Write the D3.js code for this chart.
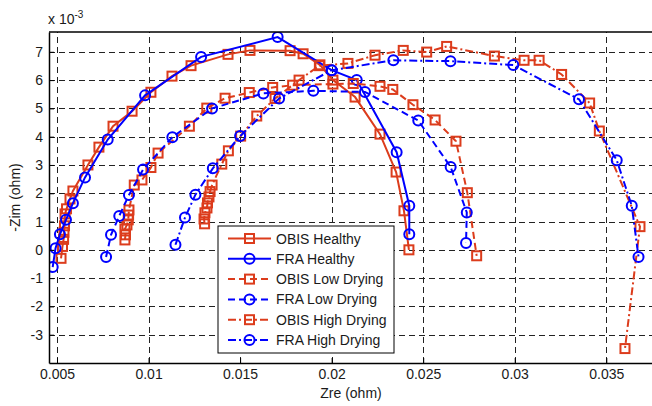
<!DOCTYPE html>
<html>
<head>
<meta charset="utf-8">
<script src="https://cdn.jsdelivr.net/npm/d3@7"></script>
<style>
  body { margin: 0; background: #fff; }
  svg { display: block; }
  text { font-family: "Liberation Sans", Arial, sans-serif; fill: #1a1a1a; }
</style>
</head>
<body>
<svg id="chart" width="652" height="406"></svg>
<script>
// Nyquist plot: real part vs. negative imaginary part of impedance (ohm)

const obisHealthyZre = [0.00522,0.00530,0.00536,0.00538,0.00541,0.00544,0.00552,0.00571,0.00587,0.00669,0.00729,0.00806,0.00910,0.01013,0.01128,0.01232,0.01434,0.01554,0.01773,0.01844,0.01936,0.02007,0.02128,0.02264,0.02352,0.02395,0.02422];
const obisHealthyZim = [-0.00030,0.00012,0.00037,0.00062,0.00085,0.00127,0.00145,0.00180,0.00208,0.00300,0.00363,0.00437,0.00490,0.00557,0.00614,0.00651,0.00691,0.00705,0.00704,0.00693,0.00654,0.00600,0.00540,0.00409,0.00275,0.00138,0.00000];

const fraHealthyZre = [0.004765,0.00492,0.00516,0.00549,0.00587,0.00653,0.00777,0.00981,0.01287,0.01705,0.02000,0.02137,0.02355,0.02424,0.02424];
const fraHealthyZim = [-0.00061,0.00006,0.00055,0.00106,0.00165,0.00256,0.00390,0.00546,0.00682,0.00752,0.00635,0.00600,0.00345,0.00156,0.00055];

const obisLowZre = [0.00871,0.00874,0.00871,0.00882,0.00889,0.00891,0.00893,0.00922,0.00964,0.01013,0.01052,0.01223,0.01318,0.01418,0.01550,0.01678,0.01787,0.02007,0.02118,0.02264,0.02334,0.02444,0.02565,0.02679,0.02741,0.02792];
const obisLowZim = [0.00035,0.00053,0.00074,0.00088,0.00106,0.00123,0.00141,0.00229,0.00247,0.00291,0.00342,0.00437,0.00501,0.00536,0.00556,0.00574,0.00582,0.00586,0.00588,0.00578,0.00567,0.00513,0.00459,0.00384,0.00202,-0.00021];

const fraLowZre = [0.00768,0.00795,0.00840,0.00893,0.00970,0.01130,0.01347,0.01627,0.01900,0.02182,0.02473,0.02650,0.02738,0.02734];
const fraLowZim = [-0.00025,0.00053,0.00120,0.00194,0.00284,0.00398,0.00500,0.00553,0.00562,0.00558,0.00457,0.00293,0.00132,0.00024];

const obisHighZre = [0.01306,0.01303,0.01308,0.01319,0.01322,0.01330,0.01336,0.01347,0.01400,0.01436,0.01503,0.01591,0.01691,0.01822,0.01933,0.02089,0.02237,0.02391,0.02519,0.02628,0.02889,0.03051,0.03133,0.03256,0.03409,0.03462,0.03684,0.03602];
const obisHighZim = [0.00092,0.00109,0.00131,0.00148,0.00166,0.00187,0.00206,0.00229,0.00303,0.00350,0.00402,0.00473,0.00535,0.00600,0.00651,0.00659,0.00688,0.00705,0.00699,0.00719,0.00685,0.00670,0.00670,0.00620,0.00519,0.00420,0.00082,-0.00349];

const fraHighZre = [0.01147,0.01199,0.01256,0.01351,0.01500,0.01713,0.02000,0.02337,0.02649,0.02992,0.03351,0.03557,0.03639,0.03676];
const fraHighZim = [0.00018,0.00114,0.00195,0.00288,0.00402,0.00535,0.00635,0.00670,0.00667,0.00653,0.00532,0.00317,0.00156,-0.00025];

const seriesNames = ["OBIS Healthy","FRA Healthy","OBIS Low Drying","FRA Low Drying","OBIS High Drying","FRA High Drying"];

const xTicks = [0.005,0.01,0.015,0.02,0.025,0.03,0.035];
const xTickLabels = ["0.005","0.01","0.015","0.02","0.025","0.03","0.035"];
const yTicks = [-0.003,-0.002,-0.001,0,0.001,0.002,0.003,0.004,0.005,0.006,0.007];
const yTickLabels = ["-3","-2","-1","0","1","2","3","4","5","6","7"];

const xDomain = [0.004563, 0.03766];
const yDomain = [-0.004, 0.0077];

// ---- styles ----
const RED = "#dc3c1c", BLUE = "#0000ff";
const DASHED = "7,4", DASHDOT = "8,3,2,3";
const seriesData = [
  { name: seriesNames[0], zre: obisHealthyZre, zim: obisHealthyZim, color: RED,  dash: null,    marker: "square" },
  { name: seriesNames[1], zre: fraHealthyZre,  zim: fraHealthyZim,  color: BLUE, dash: null,    marker: "circle" },
  { name: seriesNames[2], zre: obisLowZre,     zim: obisLowZim,     color: RED,  dash: DASHED,  marker: "square" },
  { name: seriesNames[3], zre: fraLowZre,      zim: fraLowZim,      color: BLUE, dash: DASHED,  marker: "circle" },
  { name: seriesNames[4], zre: obisHighZre,    zim: obisHighZim,    color: RED,  dash: DASHDOT, marker: "square" },
  { name: seriesNames[5], zre: fraHighZre,     zim: fraHighZim,     color: BLUE, dash: DASHDOT, marker: "circle" }
];

const svg = d3.select("#chart");
const plot = { left: 49, right: 655, top: 32, bottom: 363 };
const x = d3.scaleLinear().domain(xDomain).range([plot.left, plot.right]);
const y = d3.scaleLinear().domain(yDomain).range([plot.bottom, plot.top]);
const W = plot.right - plot.left, H = plot.bottom - plot.top;

svg.append("defs").append("clipPath").attr("id", "plotClip")
  .append("rect").attr("x", plot.left).attr("y", plot.top).attr("width", W).attr("height", H);

// grid
const gridX = svg.append("g").attr("transform", `translate(0,${plot.bottom})`)
  .call(d3.axisBottom(x).tickValues(xTicks).tickSize(-H).tickFormat(""));
const gridY = svg.append("g").attr("transform", `translate(${plot.left},0)`)
  .call(d3.axisLeft(y).tickValues(yTicks).tickSize(-W).tickFormat(""));
[gridX, gridY].forEach(g => {
  g.select(".domain").remove();
  g.selectAll(".tick line").attr("stroke", "#222").attr("stroke-width", 1)
    .attr("stroke-dasharray", "6,4").attr("shape-rendering", "crispEdges");
});

// series
const layer = svg.append("g").attr("clip-path", "url(#plotClip)");
const line = d3.line().x(d => x(d[0])).y(d => y(d[1]));

function drawMarker(g, kind, color) {
  if (kind === "square") {
    g.append("rect").attr("x", -4.5).attr("y", -4.5).attr("width", 9).attr("height", 9)
      .attr("fill", "none").attr("stroke", color).attr("stroke-width", 2);
  } else {
    g.append("circle").attr("r", 5).attr("fill", "none")
      .attr("stroke", color).attr("stroke-width", 2);
  }
}

seriesData.forEach(s => {
  const pts = s.zre.map((v, i) => [v, s.zim[i]]);
  layer.append("path").datum(pts).attr("d", line)
    .attr("fill", "none").attr("stroke", s.color).attr("stroke-width", 2)
    .attr("stroke-dasharray", s.dash);
  pts.forEach(p => {
    const g = layer.append("g").attr("transform", `translate(${x(p[0])},${y(p[1])})`);
    drawMarker(g, s.marker, s.color);
  });
});

// axes (ticks point inward)
const axX = svg.append("g").attr("transform", `translate(0,${plot.bottom})`)
  .call(d3.axisBottom(x).tickValues(xTicks).tickSizeInner(-5).tickSizeOuter(0)
    .tickPadding(6).tickFormat((d, i) => xTickLabels[i]));
const axY = svg.append("g").attr("transform", `translate(${plot.left},0)`)
  .call(d3.axisLeft(y).tickValues(yTicks).tickSizeInner(-5).tickSizeOuter(0)
    .tickPadding(6).tickFormat((d, i) => yTickLabels[i]));
[axX, axY].forEach(g => {
  g.select(".domain").attr("stroke", "#000").attr("stroke-width", 1.5);
  g.selectAll(".tick line").attr("stroke", "#000");
  g.selectAll(".tick text").attr("font-size", 14).attr("fill", "#1a1a1a")
    .style("font-family", '"Liberation Sans", Arial, sans-serif');
});
svg.append("line").attr("x1", plot.left).attr("x2", plot.right)
  .attr("y1", plot.top).attr("y2", plot.top).attr("stroke", "#000").attr("stroke-width", 1.5);

// axis titles
svg.append("text").attr("x", (plot.left + plot.right) / 2 - 1).attr("y", 398)
  .attr("text-anchor", "middle").attr("font-size", 14).text("Zre (ohm)");
svg.append("text").attr("transform", `translate(20,${(plot.top + plot.bottom) / 2}) rotate(-90)`)
  .attr("text-anchor", "middle").attr("font-size", 14).text("-Zim (ohm)");

// exponent
const ex = svg.append("text").attr("x", 48).attr("y", 24).attr("font-size", 14);
ex.append("tspan").text("x 10");
ex.append("tspan").attr("font-size", 10).attr("dy", -6).text("-3");

// legend
const lg = svg.append("g").attr("transform", "translate(218,226)");
lg.append("rect").attr("width", 176).attr("height", 127).attr("fill", "#fff")
  .attr("stroke", "#000").attr("stroke-width", 1);
seriesData.forEach((s, i) => {
  const cy = 12.5 + i * 20.3;
  lg.append("line").attr("x1", 10).attr("x2", 53).attr("y1", cy).attr("y2", cy)
    .attr("stroke", s.color).attr("stroke-width", 2).attr("stroke-dasharray", s.dash);
  drawMarker(lg.append("g").attr("transform", `translate(31.5,${cy})`), s.marker, s.color);
  lg.append("text").attr("x", 58).attr("y", cy + 5).attr("font-size", 14).text(s.name);
});
</script>
</body>
</html>
